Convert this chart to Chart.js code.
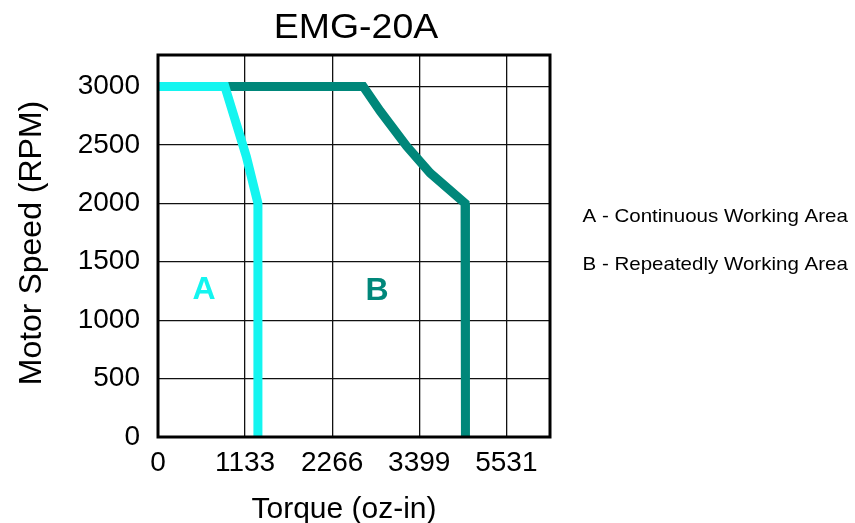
<!DOCTYPE html>
<html>
<head>
<meta charset="utf-8">
<script src="https://cdn.jsdelivr.net/npm/chart.js@4"></script>
<style>
  html, body { margin: 0; padding: 0; background: #ffffff; }
  #wrap { width: 855px; height: 523px; position: relative; }
</style>
</head>
<body>
<div id="wrap"><canvas id="c"></canvas></div>
<script>
// ---- Data ----
const chartTitle = 'EMG-20A';
const xTitle = 'Torque (oz-in)';
const yTitle = 'Motor Speed (RPM)';
const xTickValues = [0, 1133, 2266, 3399, 4532];
const xTickLabels = ['0', '1133', '2266', '3399', '5531'];
const xMax = 5100;
const yTickValues = [0, 500, 1000, 1500, 2000, 2500, 3000];
const yMax = 3270;

// Curve A - continuous working area
const aTorque = [0, 870, 1150, 1300, 1300];
const aSpeed  = [3000, 3000, 2400, 2000, 0];

// Curve B - repeatedly working area
const bTorque = [870, 2670, 2890, 3235, 3540, 3995, 4000];
const bSpeed  = [3000, 3000, 2790, 2490, 2260, 2000, 0];

// Area letters inside the plot
const areaLetters = ['A', 'B'];
const areaLetterTorque = [600, 2850];
const areaLetterSpeed  = [1255, 1250];

// Notes on the right
const notes = ['A - Continuous Working Area', 'B - Repeatedly Working Area'];

const colorA = '#14f5f0';
const colorB = '#00877a';

const toPoints = (xs, ys) => xs.map((x, i) => ({ x: x, y: ys[i] }));

const FONT = '"Liberation Sans", Arial, Helvetica, sans-serif';

const decorPlugin = {
  id: 'decor',
  afterDatasetsDraw(chart) {
    const ctx = chart.ctx;
    const a = chart.chartArea;
    const xs = chart.scales.x, ys = chart.scales.y;
    ctx.save();
    // plot frame
    ctx.strokeStyle = '#000';
    ctx.lineWidth = 3;
    ctx.strokeRect(a.left, a.top, a.right - a.left, a.bottom - a.top);

    // area letters
    ctx.font = 'bold 32px ' + FONT;
    ctx.textAlign = 'center';
    ctx.textBaseline = 'middle';
    areaLetters.forEach((t, i) => {
      ctx.fillStyle = i === 0 ? colorA : colorB;
      ctx.fillText(t, xs.getPixelForValue(areaLetterTorque[i]), ys.getPixelForValue(areaLetterSpeed[i]));
    });
    ctx.restore();
  },
  afterDraw(chart) {
    const ctx = chart.ctx;
    const a = chart.chartArea;
    ctx.save();
    ctx.fillStyle = '#000';
    ctx.textBaseline = 'alphabetic';

    // title
    ctx.save();
    ctx.font = '35px ' + FONT;
    ctx.textAlign = 'center';
    ctx.translate((a.left + a.right) / 2 + 2, 38);
    ctx.scale(1.07, 1);
    ctx.fillText(chartTitle, 0, 0);
    ctx.restore();

    // x title
    ctx.font = '30px ' + FONT;
    ctx.textAlign = 'center';
    ctx.fillText(xTitle, (a.left + a.right) / 2 - 10, 518);

    // y title
    ctx.save();
    ctx.font = '32px ' + FONT;
    ctx.textAlign = 'center';
    ctx.translate(41, 243);
    ctx.rotate(-Math.PI / 2);
    ctx.fillText(yTitle, 0, 0);
    ctx.restore();

    // notes
    ctx.font = '19px ' + FONT;
    ctx.textAlign = 'left';
    notes.forEach((t, i) => {
      ctx.save();
      ctx.translate(a.right + 32.5, 221.5 + i * 48);
      ctx.scale(1.08, 1);
      ctx.fillText(t, 0, 0);
      ctx.restore();
    });
    ctx.restore();
  }
};

new Chart(document.getElementById('c'), {
  type: 'scatter',
  data: {
    datasets: [
      {
        label: 'A',
        data: toPoints(aTorque, aSpeed),
        showLine: true,
        borderColor: colorA,
        backgroundColor: colorA,
        borderWidth: 9,
        borderJoinStyle: 'miter',
        pointRadius: 0,
        pointHoverRadius: 0,
        fill: false,
        tension: 0
      },
      {
        label: 'B',
        data: toPoints(bTorque, bSpeed),
        showLine: true,
        borderColor: colorB,
        backgroundColor: colorB,
        borderWidth: 9,
        borderJoinStyle: 'miter',
        pointRadius: 0,
        pointHoverRadius: 0,
        fill: false,
        tension: 0
      }
    ]
  },
  options: {
    responsive: true,
    maintainAspectRatio: false,
    animation: false,
    layout: { padding: { top: 55, right: 305, bottom: 0, left: 0 } },
    plugins: {
      legend: { display: false },
      tooltip: { enabled: false },
      title: { display: false }
    },
    scales: {
      x: {
        type: 'linear',
        min: 0,
        max: xMax,
        border: { display: false },
        grid: { color: '#111', lineWidth: 1.3, drawTicks: false },
        ticks: {
          autoSkip: false,
          maxRotation: 0,
          padding: 9,
          color: '#000',
          font: { family: FONT, size: 28 },
          callback: (v, i) => xTickLabels[i]
        },
        afterBuildTicks(scale) { scale.ticks = xTickValues.map(v => ({ value: v })); },
        afterFit(scale) { scale.height = 86; }
      },
      y: {
        type: 'linear',
        min: 0,
        max: yMax,
        border: { display: false },
        grid: { color: '#111', lineWidth: 1.3, drawTicks: false },
        ticks: {
          autoSkip: false,
          padding: 18,
          color: '#000',
          font: { family: FONT, size: 28 },
          callback: (v) => String(v)
        },
        afterBuildTicks(scale) { scale.ticks = yTickValues.map(v => ({ value: v })); },
        afterFit(scale) { scale.width = 158; }
      }
    }
  },
  plugins: [decorPlugin]
});
</script>
</body>
</html>
